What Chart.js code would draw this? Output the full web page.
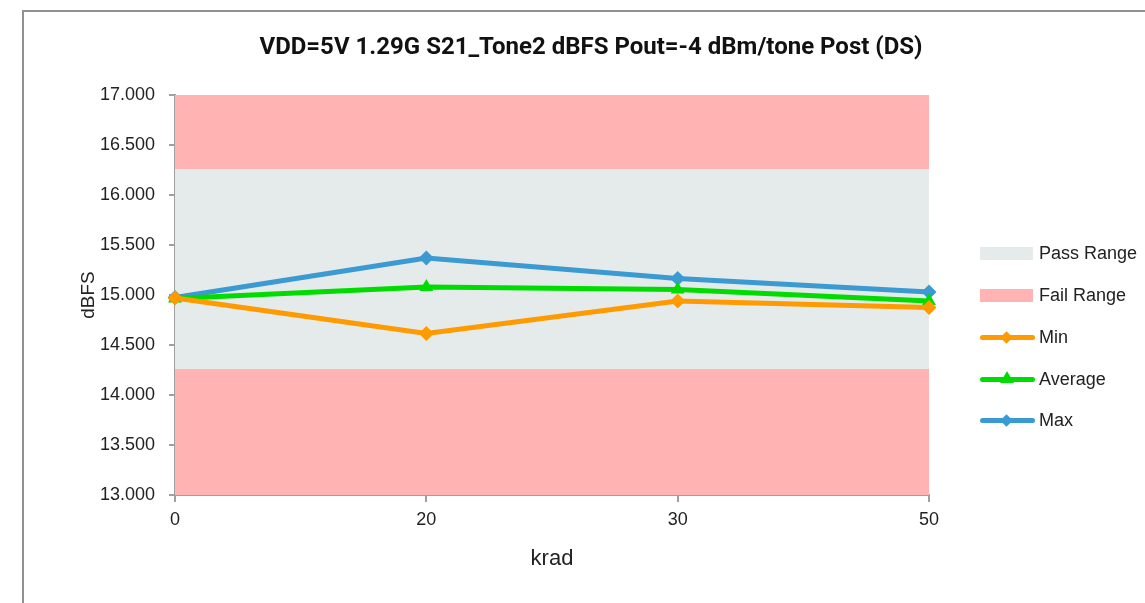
<!DOCTYPE html>
<html>
<head>
<meta charset="utf-8">
<script src="https://cdn.jsdelivr.net/npm/chart.js@4.4.1/dist/chart.umd.min.js"></script>
<style>
  html, body { margin: 0; padding: 0; width: 1145px; height: 603px; overflow: hidden; background: #fff; }
  #frame { position: absolute; left: 22px; top: 10px; width: 1200px; height: 700px; border: 2px solid #909090; box-sizing: border-box; }
  #wrap { position: absolute; left: 0; top: 0; width: 1182px; height: 603px; }
  #legend { position: absolute; left: 980px; top: 0; font-family: "Liberation Sans", Arial, sans-serif; font-size: 18px; color: #222; }
  .item { position: absolute; left: 0; width: 170px; height: 20px; }
  .sw { position: absolute; left: 0; top: 4px; width: 53px; height: 13px; }
  .ln { position: absolute; left: 0; top: 8px; width: 55px; height: 5px; border-radius: 2.5px; }
  .dia { position: absolute; left: 22px; top: 6px; width: 9px; height: 9px; transform: rotate(45deg); }
  .tri { position: absolute; left: 20px; top: 2px; width: 0; height: 0; border-left: 7px solid transparent; border-right: 7px solid transparent; border-bottom: 12px solid #00dc00; }
  .lbl { position: absolute; left: 59px; top: 0; line-height: 21px; white-space: nowrap; }
</style>
</head>
<body>
<div id="frame"></div>
<div id="wrap"><canvas id="c" width="1182" height="603"></canvas></div>
<div id="legend"></div>
<script>
const categories = ['0', '20', '30', '50'];
const minValues = [14.97, 14.615, 14.94, 14.875];
const avgValues = [14.965, 15.08, 15.055, 14.94];
const maxValues = [14.975, 15.37, 15.165, 15.03];
const passLow = 14.26;
const passHigh = 16.26;
const yMin = 13;
const yMax = 17;
const yStep = 0.5;

const colMin = '#ff9a00', colAvg = '#00dc00', colMax = '#3a9ad1';
const colPass = '#e5ebeb', colFail = '#ffb3b3';

const lowBand = categories.map(() => passLow);
const passBand = categories.map(() => passHigh);
const topBand = categories.map(() => yMax);

function lineDs(label, data, color, style) {
  return { label, data, borderColor: color, backgroundColor: color, borderWidth: 5,
    pointStyle: style, pointRadius: style === 'triangle' ? 8 : 7.5, pointHoverRadius: 7.5,
    pointBorderWidth: 0, fill: false, tension: 0, order: 1 };
}
function bandDs(label, data, color, fill) {
  return { label, data, borderWidth: 0, borderColor: 'rgba(0,0,0,0)', backgroundColor: color,
    pointRadius: 0, fill, order: 10 };
}

const axisCol = '#a0a0a0';
const tickFont = { family: '"Liberation Sans", Arial, sans-serif', size: 18 };

new Chart(document.getElementById('c'), {
  type: 'line',
  data: {
    labels: categories,
    datasets: [
      lineDs('Min', minValues, colMin, 'rectRot'),
      lineDs('Average', avgValues, colAvg, 'triangle'),
      lineDs('Max', maxValues, colMax, 'rectRot'),
      bandDs('Fail Range', lowBand, colFail, { value: yMin }),
      bandDs('Pass Range', passBand, colPass, '-1'),
      bandDs('Fail Range', topBand, colFail, '-1')
    ]
  },
  options: {
    responsive: false,
    animation: false,
    events: [],
    layout: { padding: { left: 60, right: 60, top: 0, bottom: 0 } },
    plugins: {
      legend: { display: false },
      tooltip: { enabled: false },
      filler: { drawTime: 'beforeDatasetsDraw' },
      title: {
        display: true,
        text: 'VDD=5V 1.29G S21_Tone2 dBFS Pout=-4 dBm/tone Post (DS)',
        font: { family: 'Roboto, "Liberation Sans", Arial, sans-serif', size: 24, weight: 'bold', lineHeight: 1.2 },
        color: '#111',
        padding: { top: 34, bottom: 32.2 }
      }
    },
    scales: {
      x: {
        offset: false,
        grid: { display: true, drawOnChartArea: false, drawTicks: true, tickLength: 7, color: axisCol, lineWidth: 2 },
        border: { display: true, color: axisCol, width: 2 },
        ticks: { font: tickFont, color: '#222', padding: 7, maxRotation: 0 },
        title: { display: true, text: 'krad', font: { family: '"Liberation Sans", Arial, sans-serif', size: 22, lineHeight: 1.2 }, color: '#222', padding: { top: 0, bottom: 31 } },
        afterFit: (s) => { s.height = 108; }
      },
      y: {
        min: yMin, max: yMax,
        grid: { display: true, drawOnChartArea: false, drawTicks: true, tickLength: 6, color: axisCol, lineWidth: 2 },
        border: { display: true, color: axisCol, width: 2 },
        ticks: { stepSize: yStep, font: tickFont, color: '#222', padding: 14, callback: (v) => Number(v).toFixed(3) },
        title: { display: true, text: 'dBFS', font: { family: '"Liberation Sans", Arial, sans-serif', size: 19, lineHeight: 1.2 }, color: '#222', padding: { top: 17, bottom: 0 } },
        afterFit: (s) => { s.width = 115; }
      },
      legendSpace: {
        position: 'right',
        display: true,
        grid: { display: false },
        border: { display: false },
        ticks: { display: false },
        afterFit: (s) => { s.width = 193; }
      }
    }
  }
});

// HTML legend built from the same series
const legendItems = [
  { label: 'Pass Range', kind: 'box', color: colPass, y: 243 },
  { label: 'Fail Range', kind: 'box', color: colFail, y: 285 },
  { label: 'Min', kind: 'dia', color: colMin, y: 327 },
  { label: 'Average', kind: 'tri', color: colAvg, y: 369 },
  { label: 'Max', kind: 'dia', color: colMax, y: 410 }
];
const lg = document.getElementById('legend');
legendItems.forEach(it => {
  const d = document.createElement('div');
  d.className = 'item';
  d.style.top = it.y + 'px';
  if (it.kind === 'box') {
    d.innerHTML = '<div class="sw" style="background:' + it.color + '"></div>';
  } else {
    d.innerHTML = '<div class="ln" style="background:' + it.color + '"></div>' +
      (it.kind === 'dia' ? '<div class="dia" style="background:' + it.color + '"></div>' : '<div class="tri"></div>');
  }
  const t = document.createElement('div');
  t.className = 'lbl';
  t.textContent = it.label;
  d.appendChild(t);
  lg.appendChild(d);
});
</script>
</body>
</html>
